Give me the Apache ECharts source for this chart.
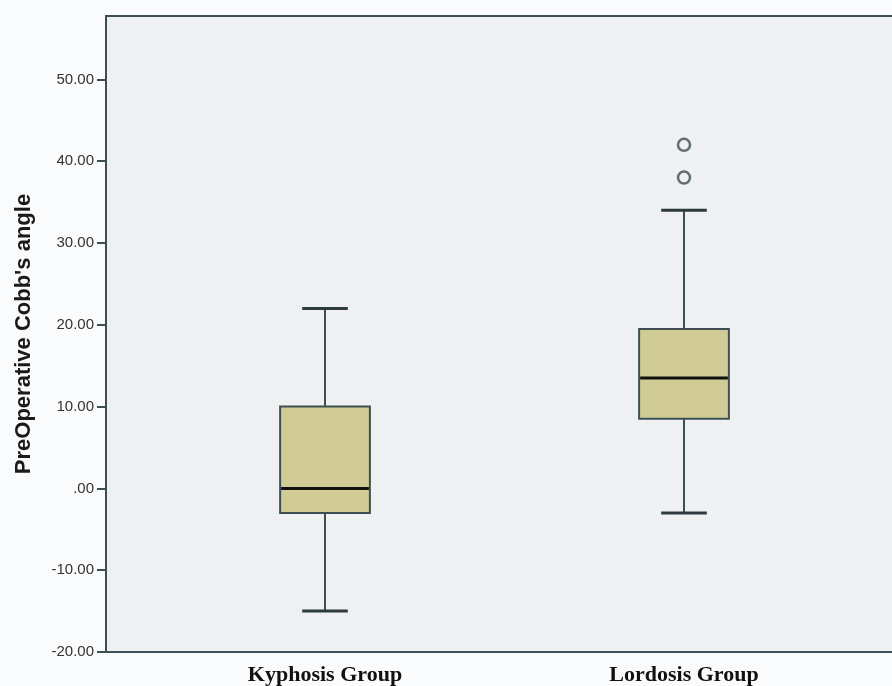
<!DOCTYPE html>
<html>
<head>
<meta charset="utf-8">
<script src="https://cdn.jsdelivr.net/npm/echarts@6/dist/echarts.min.js"></script>
<style>
  html, body { margin: 0; padding: 0; background: #fafbfd; }
  #chart { width: 892px; height: 686px; }
</style>
</head>
<body>
<div id="chart"></div>
<script>
// Groups on the category axis
const categories = ['Kyphosis Group', 'Lordosis Group'];

// Five-number summaries per group
const lowerWhisker = [-15, -3];
const q1 = [-3, 8.5];
const median = [0, 13.5];
const q3 = [10, 19.5];
const upperWhisker = [22, 34];

// Individual outlying cases
const outlierGroup = ['Lordosis Group', 'Lordosis Group'];
const outlierValue = [38, 42];

// Value axis ticks
const yTickValues = [-20, -10, 0, 10, 20, 30, 40, 50];
const yTickLabels = ['-20.00', '-10.00', '.00', '10.00', '20.00', '30.00', '40.00', '50.00'];

const yMin = -20;
const yMax = 57.75;
const frameColor = '#3d4f54';

const boxData = categories.map((c, i) => [i, lowerWhisker[i], q1[i], median[i], q3[i], upperWhisker[i]]);
const outlierData = outlierGroup.map((g, i) => [g, outlierValue[i]]);

function renderBox(params, api) {
  const x = api.value(0);
  const band = api.size([1, 0])[0];
  const halfBox = band * 0.125;
  const halfCap = band * 0.0635;
  const pLow = api.coord([x, api.value(1)]);
  const pQ1 = api.coord([x, api.value(2)]);
  const pMed = api.coord([x, api.value(3)]);
  const pQ3 = api.coord([x, api.value(4)]);
  const pHigh = api.coord([x, api.value(5)]);
  const cx = Math.round(pMed[0]);
  const lineStyle = { stroke: frameColor, lineWidth: 2, fill: null };
  return {
    type: 'group',
    children: [
      { type: 'line', shape: { x1: cx, y1: pQ3[1], x2: cx, y2: pHigh[1] }, style: lineStyle },
      { type: 'line', shape: { x1: cx, y1: pQ1[1], x2: cx, y2: pLow[1] }, style: lineStyle },
      { type: 'line', shape: { x1: cx - halfCap, y1: pHigh[1], x2: cx + halfCap, y2: pHigh[1] }, style: { stroke: '#2c3a3d', lineWidth: 3 } },
      { type: 'line', shape: { x1: cx - halfCap, y1: pLow[1], x2: cx + halfCap, y2: pLow[1] }, style: { stroke: '#2c3a3d', lineWidth: 3 } },
      {
        type: 'rect',
        shape: { x: cx - halfBox, y: pQ3[1], width: halfBox * 2, height: pQ1[1] - pQ3[1] },
        style: { fill: '#d1cc95', stroke: frameColor, lineWidth: 2 }
      },
      { type: 'line', shape: { x1: cx - halfBox + 1, y1: pMed[1], x2: cx + halfBox - 1, y2: pMed[1] }, style: { stroke: '#111111', lineWidth: 3 } }
    ]
  };
}

const chart = echarts.init(document.getElementById('chart'), null, { renderer: 'canvas' });

chart.setOption({
  backgroundColor: '#fafbfd',
  animation: false,
  grid: [
    {
      left: 106, right: -12, top: 16, bottom: 34,
      outerBoundsMode: 'none', containLabel: false,
      show: true, backgroundColor: '#eef0f1',
      borderColor: frameColor, borderWidth: 2
    },
    { left: 145.5, right: 28.5, top: 16, bottom: 34, outerBoundsMode: 'none', containLabel: false }
  ],
  xAxis: [
    {
      gridIndex: 0, type: 'value', min: 0, max: 1,
      axisLine: { show: false }, axisTick: { show: false },
      axisLabel: { show: false }, splitLine: { show: false }
    },
    {
      gridIndex: 1, type: 'category', data: categories,
      axisLine: { show: false },
      axisTick: { show: true, alignWithLabel: true, length: 10, lineStyle: { color: frameColor, width: 2 } },
      axisLabel: {
        margin: 12, color: '#111',
        fontFamily: '"Liberation Serif", "Times New Roman", serif',
        fontWeight: 'bold', fontSize: 22
      },
      splitLine: { show: false }
    }
  ],
  yAxis: [
    {
      gridIndex: 0, type: 'value', min: yMin, max: yMax, interval: 10,
      name: "PreOperative Cobb's angle",
      nameLocation: 'middle', nameGap: 71, nameRotate: 90,
      nameTextStyle: {
        fontFamily: '"Liberation Sans", Arial, sans-serif',
        fontWeight: 'bold', fontSize: 22, color: '#1a1a1a'
      },
      axisLine: { show: false },
      axisTick: { show: true, length: 9, customValues: yTickValues, lineStyle: { color: frameColor, width: 2 } },
      axisLabel: {
        margin: 12, color: '#333', fontSize: 15,
        fontFamily: '"Liberation Sans", Arial, sans-serif',
        customValues: yTickValues,
        formatter: (v) => {
          const i = yTickValues.indexOf(Math.round(v));
          return i >= 0 ? yTickLabels[i] : '';
        }
      },
      splitLine: { show: false }
    },
    {
      gridIndex: 1, type: 'value', min: yMin, max: yMax, interval: 10, show: false
    }
  ],
  series: [
    {
      type: 'custom',
      xAxisIndex: 1, yAxisIndex: 1,
      renderItem: renderBox,
      encode: { x: 0, y: [1, 2, 3, 4, 5] },
      data: boxData,
      z: 5
    },
    {
      type: 'scatter',
      xAxisIndex: 1, yAxisIndex: 1,
      symbol: 'circle', symbolSize: 12,
      itemStyle: { color: 'rgba(0,0,0,0)', borderColor: frameColor, borderWidth: 2.5 },
      data: outlierData,
      z: 6
    }
  ]
});
</script>
</body>
</html>
